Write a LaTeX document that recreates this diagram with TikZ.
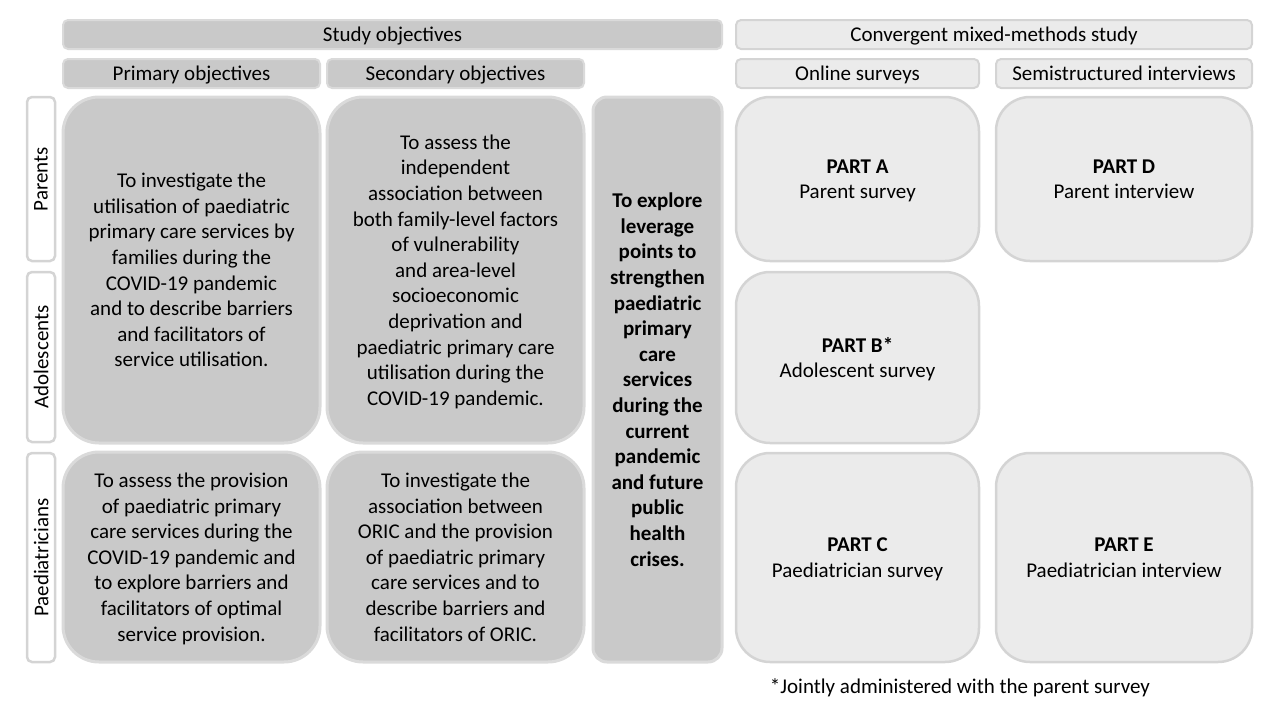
\documentclass[tikz,border=0pt]{standalone}
\usepackage{fontspec}
\setmainfont{Carlito}
\usepackage{tikz}
\usetikzlibrary{positioning}

\definecolor{darkfill}{RGB}{201,201,201}
\definecolor{darkline}{RGB}{218,218,218}
\definecolor{lightfill}{RGB}{235,235,235}
\definecolor{lightline}{RGB}{212,212,212}

\begin{document}
\begin{tikzpicture}[x=1pt,y=-1pt,
		txt/.style={font=\fontsize{21}{25.6}\selectfont,align=center,inner sep=0pt,text depth=0pt,text=black},
		darkbar/.style={txt,fill=darkfill,draw=darkline,line width=2pt,rounded corners=5pt},
		lightbar/.style={txt,fill=lightfill,draw=lightline,line width=2pt,rounded corners=5pt},
		darkbox/.style={txt,fill=darkfill,draw=darkline,line width=3pt,rounded corners=36pt},
		lightbox/.style={txt,fill=lightfill,draw=lightline,line width=2.5pt,rounded corners=34pt},
		rowlabel/.style={txt,fill=white,draw=lightline,line width=2.5pt,rounded corners=5pt,rotate=90}]
		
		\useasboundingbox (0,0) rectangle (1280,720);
		
		% Header bars
		\node[darkbar,minimum width=659pt,minimum height=29pt] (studyobj) at (392.5,34.5) {Study objectives};
		\node[lightbar,minimum width=516pt,minimum height=29pt] (mixed) at (994,34.5) {Convergent mixed-methods study};
		\node[darkbar,minimum width=257pt,minimum height=29pt] (primhead) at (191.5,73.5) {Primary objectives};
		\node[darkbar,minimum width=257pt,minimum height=29pt] (sechead) at (455.5,73.5) {Secondary objectives};
		\node[lightbar,minimum width=243pt,minimum height=29pt] (surveyhead) at (857.5,73.5) {Online surveys};
		\node[lightbar,minimum width=256pt,minimum height=29pt] (interhead) at (1124,73.5) {Semistructured interviews};
		
		% Row labels
		\node[rowlabel,minimum width=164pt,minimum height=28pt] (parents) at (41,179) {Parents};
		\node[rowlabel,minimum width=170pt,minimum height=28pt] (adolescents) at (41,357) {Adolescents};
		\node[rowlabel,minimum width=209pt,minimum height=28pt] (paediatricians) at (41,557.5) {Paediatricians};
		
		% Study objectives
		\node[darkbox,minimum width=257pt,minimum height=346pt] (primfam) at (191.5,270) {To investigate the\\ utilisation of paediatric\\ primary care services by\\ families during the\\ COVID-19 pandemic\\ and to describe barriers\\ and facilitators of\\ service utilisation.};
		\node[darkbox,minimum width=257pt,minimum height=346pt] (secfam) at (455.5,270) {To assess the\\ independent\\ association between\\ both family-level factors\\ of vulnerability\\ and area-level\\ socioeconomic\\ deprivation and\\ paediatric primary care\\ utilisation during the\\ COVID-19 pandemic.};
		\node[darkbox,minimum width=257pt,minimum height=210pt] (primpaed) at (191.5,557) {To assess the provision\\ of paediatric primary\\ care services during the\\ COVID-19 pandemic and\\ to explore barriers and\\ facilitators of optimal\\ service provision.};
		\node[darkbox,minimum width=257pt,minimum height=210pt] (secpaed) at (455.5,557) {To investigate the\\ association between\\ ORIC and the provision\\ of paediatric primary\\ care services and to\\ describe barriers and\\ facilitators of ORIC.};
		\node[darkbox,rounded corners=14pt,minimum width=129pt,minimum height=565pt,font=\fontsize{21}{25.6}\selectfont\bfseries] (leverage) at (657.5,379.5) {To explore\\ leverage\\ points to\\ strengthen\\ paediatric\\ primary\\ care\\ services\\ during the\\ current\\ pandemic\\ and future\\ public\\ health\\ crises.};
		
		% Study parts
		\node[lightbox,minimum width=243pt,minimum height=164pt] (partA) at (857.5,179) {\textbf{PART A}\\ Parent survey};
		\node[lightbox,minimum width=256pt,minimum height=164pt] (partD) at (1124,179) {\textbf{PART D}\\ Parent interview};
		\node[lightbox,minimum width=243pt,minimum height=171pt] (partB) at (857.5,357.5) {\textbf{PART B*}\\ Adolescent survey};
		\node[lightbox,minimum width=243pt,minimum height=209pt] (partC) at (857.5,557.5) {\textbf{PART C}\\ Paediatrician survey};
		\node[lightbox,minimum width=256pt,minimum height=209pt] (partE) at (1124,557.5) {\textbf{PART E}\\ Paediatrician interview};
		
		% Footnote
		\node[txt] (note) at (960,686) {*Jointly administered with the parent survey};
		
	\end{tikzpicture}
\end{document}
